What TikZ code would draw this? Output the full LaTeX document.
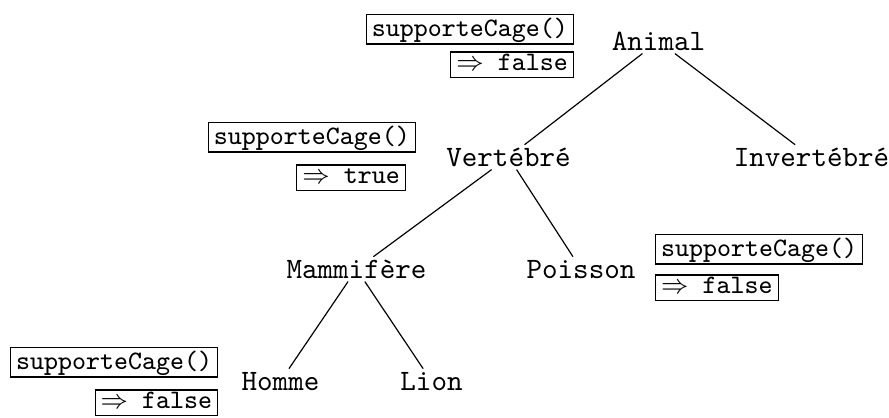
\documentclass[tikz,border=0pt]{standalone}
\begin{document}
\begin{tikzpicture}[x=0.3378pt,y=-0.3378pt,
  taxon/.style={font=\ttfamily, inner sep=1pt, text height=6pt, text depth=0pt, anchor=base},
  call/.style={draw, line width=0.4pt, font=\small\ttfamily, inner xsep=1.9pt, inner ysep=0.3pt,
               text height=7pt, text depth=2.4pt},
  result/.style={call, text height=5.8pt, text depth=2.1pt},
  branch/.style={line width=0.4pt}]
  \useasboundingbox (0,0) rectangle (889,417);

  % class hierarchy
  \node[taxon] (animal)  at (658.5,50)  {Animal};
  \node[taxon] (vert)    at (508.5,166) {Vertébré};
  \node[taxon] (invert)  at (811.5,166) {Invertébré};
  \node[taxon] (mammal)  at (356.5,278) {Mammifère};
  \node[taxon] (fish)    at (581,278)   {Poisson};
  \node[taxon] (human)   at (280.5,390) {Homme};
  \node[taxon] (lion)    at (431.5,390) {Lion};

  \draw[branch] (animal) -- (vert);
  \draw[branch] (animal) -- (invert);
  \draw[branch] (vert) -- (mammal);
  \draw[branch] (vert) -- (fish);
  \draw[branch] (mammal) -- (human);
  \draw[branch] (mammal) -- (lion);

  % method calls and their results
  \node[call,   anchor=base east] (callA) at (574,36)  {supporteCage()};
  \node[result, anchor=base east] (resA)  at (574,70)  {$\Rightarrow$ false};

  \node[call,   anchor=base east] (callB) at (416,144) {supporteCage()};
  \node[result, anchor=base east] (resB)  at (406,183) {$\Rightarrow$ true};

  \node[call,   anchor=base west] (callC) at (655,256) {supporteCage()};
  \node[result, anchor=base west] (resC)  at (655,293) {$\Rightarrow$ false};

  \node[call,   anchor=base west] (callD) at (10,369)  {supporteCage()};
  \node[result, anchor=base east] (resD)  at (callD.east |- 0,408) {$\Rightarrow$ false};
\end{tikzpicture}
\end{document}
